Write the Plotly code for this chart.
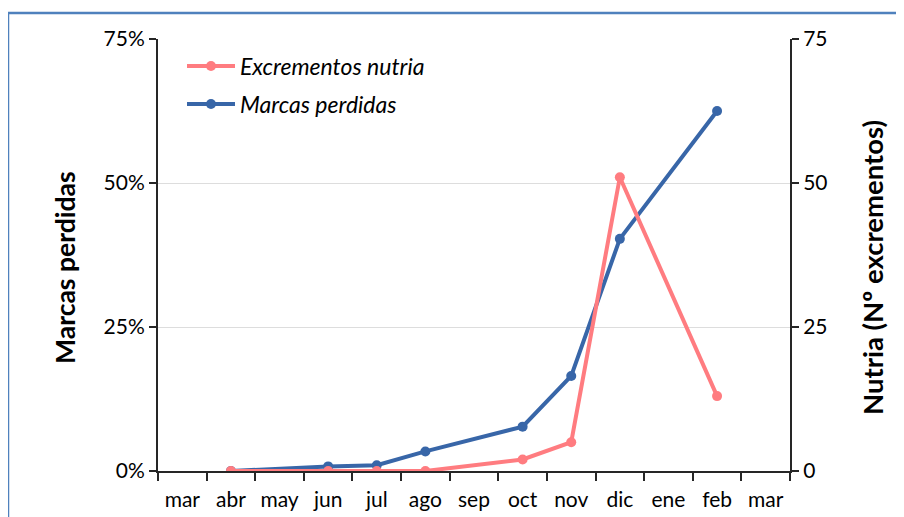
import plotly.graph_objects as go

months = ["mar", "abr", "may", "jun", "jul", "ago", "sep", "oct", "nov", "dic", "ene", "feb", "mar"]
marcas_perdidas = [None, 0.0, None, 0.008, 0.010, 0.034, None, 0.077, 0.165, 0.403, None, 0.625, None]
excrementos_nutria = [None, 0, None, 0, 0, 0, None, 2, 5, 51, None, 13, None]

x = list(range(len(months)))
RED = "#FF7C80"
BLUE = "#3866A8"
BORDER = "#4F81BD"
FONT = "Lato"

# the page body adds an 8px offset; work in page coordinates
OFF = 8
W, H = 904 - OFF, 517 - OFF
L, T = 158 - OFF, 39 - OFF
R = W - (790 - OFF)
B = H - (471 - OFF)
pw, ph = W - L - R, H - T - B

def px(xp):
    return (xp - OFF - L) / pw

def py(yp):
    return (H - B - (yp - OFF)) / ph

fig = go.Figure()
fig.add_trace(go.Scatter(
    x=x, y=excrementos_nutria, name="Excrementos nutria", yaxis="y2",
    mode="lines+markers", connectgaps=True,
    line=dict(color=RED, width=4), marker=dict(color=RED, size=10),
    legend="legend",
))
fig.add_trace(go.Scatter(
    x=x, y=marcas_perdidas, name="Marcas perdidas", yaxis="y",
    mode="lines+markers", connectgaps=True,
    line=dict(color=BLUE, width=4), marker=dict(color=BLUE, size=10),
    legend="legend2",
))

fig.update_layout(
    width=W, height=H,
    margin=dict(l=L, r=R, t=T, b=B, autoexpand=False),
    paper_bgcolor="white", plot_bgcolor="white",
    font=dict(family=FONT, color="#000000", size=21),
    xaxis=dict(
        range=[-0.5, 12.5], tickmode="array", tickvals=x, ticktext=months,
        ticks="", showgrid=False, zeroline=False,
        showline=True, linecolor="#262626", linewidth=2,
        tickfont=dict(size=21), ticklabelstandoff=9,
        minor=dict(tickmode="linear", tick0=-0.5, dtick=1, ticks="outside",
                   ticklen=8, tickwidth=2, tickcolor="#262626", showgrid=False),
    ),
    yaxis=dict(
        range=[0, 0.75], dtick=0.25, tickformat=".0%",
        showgrid=True, gridcolor="#DDDDDD", gridwidth=1, zeroline=False,
        showline=True, linecolor="#262626", linewidth=2,
        ticks="outside", ticklen=7, tickwidth=2, tickcolor="#262626",
        tickfont=dict(size=21),
    ),
    yaxis2=dict(
        range=[0, 75], dtick=25, overlaying="y", side="right",
        showgrid=False, zeroline=False,
        showline=True, linecolor="#262626", linewidth=2,
        ticks="outside", ticklen=7, tickwidth=2, tickcolor="#262626",
        tickfont=dict(size=21),
    ),
    showlegend=True,
    legend=dict(x=px(182), y=py(66), xanchor="left", yanchor="middle", itemwidth=48,
                bgcolor="rgba(0,0,0,0)", font=dict(size=23, style="italic")),
    legend2=dict(x=px(182), y=py(104), xanchor="left", yanchor="middle", itemwidth=48,
                 bgcolor="rgba(0,0,0,0)", font=dict(size=23, style="italic")),
    annotations=[
        dict(text="<b>Marcas perdidas</b>", xref="paper", yref="paper",
             x=px(65), y=py(268), xanchor="center", yanchor="middle",
             textangle=-90, showarrow=False, font=dict(size=26.5)),
        dict(text="<b>Nutria (Nº excrementos)</b>", xref="paper", yref="paper",
             x=px(872), y=py(268), xanchor="center", yanchor="middle",
             textangle=-90, showarrow=False, font=dict(size=27.5)),
    ],
    shapes=[
        dict(type="line", xref="paper", yref="paper",
             x0=px(8), x1=px(940), y0=py(13), y1=py(13),
             line=dict(color=BORDER, width=2.5), layer="below"),
        dict(type="line", xref="paper", yref="paper",
             x0=px(8), x1=px(8), y0=py(13), y1=py(560),
             line=dict(color=BORDER, width=2.5), layer="below"),
    ],
)

fig.write_html("out.html")
